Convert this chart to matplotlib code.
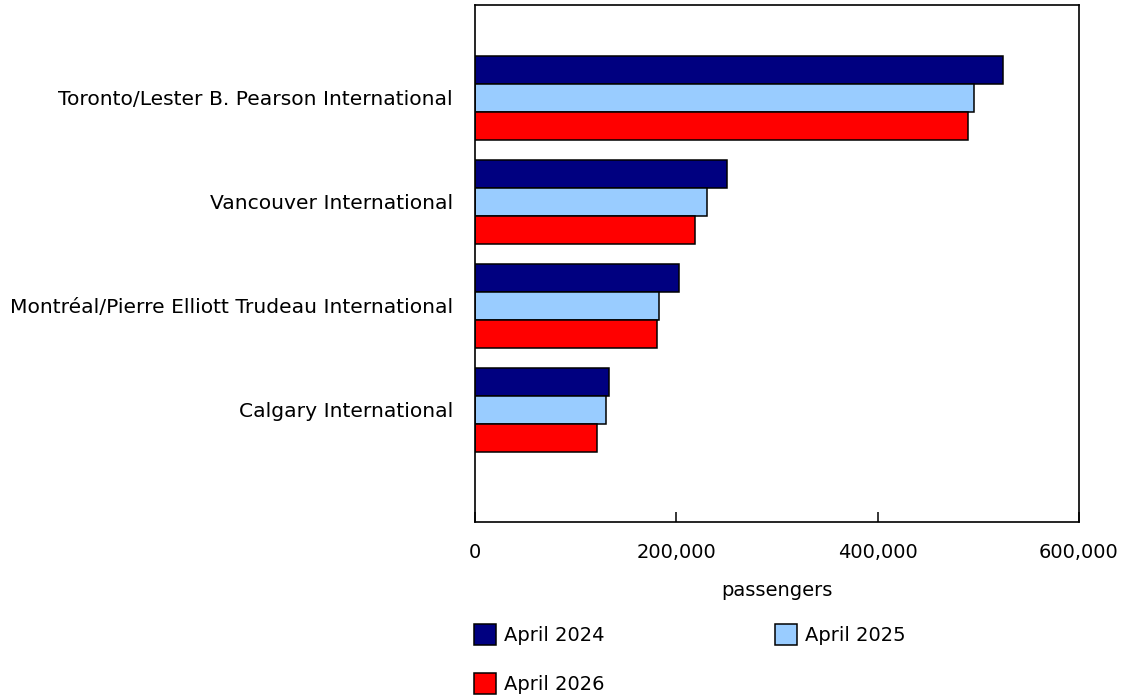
import matplotlib
matplotlib.use("Agg")
import matplotlib.pyplot as plt
from matplotlib.patches import Patch
import numpy as np

# airports, top to bottom
airports = [
    "Toronto/Lester B. Pearson International",
    "Vancouver International",
    "Montréal/Pierre Elliott Trudeau International",
    "Calgary International",
]
series_names = ["April 2024", "April 2025", "April 2026"]
april_2024 = [524200, 250000, 202700, 132800]
april_2025 = [496000, 230500, 182500, 130100]
april_2026 = [490000, 218900, 180500, 120900]
x_ticks = [0, 200000, 400000, 600000]
x_ticklabels = ["0", "200,000", "400,000", "600,000"]

colors = ["#000080", "#99CCFF", "#FF0000"]

plt.rcParams["font.family"] = ["DejaVu Sans"]
FS = 14

fig = plt.figure(figsize=(11.24, 6.97), dpi=100)
ax = fig.add_axes([475 / 1124, 1 - 522 / 697, 604 / 1124, 517 / 697])

y = np.arange(len(airports))
h = 0.27
for i, vals in enumerate([april_2024, april_2025, april_2026]):
    ax.barh(y + (i - 1) * h, vals, height=h, color=colors[i],
            edgecolor="black", linewidth=1.1, label=series_names[i])

ax.set_ylim(3 + 1.077, -0.894)
ax.set_xlim(0, 600000)
ax.set_yticks(y)
ax.set_yticklabels(airports, fontsize=14.6)
ax.tick_params(axis="y", length=0, pad=16)
ax.set_xticks(x_ticks)
ax.set_xticklabels(x_ticklabels, fontsize=FS)
ax.tick_params(axis="x", direction="in", length=7, width=1.1, pad=15)
ax.set_xlabel("passengers", fontsize=FS, labelpad=14)
for s in ax.spines.values():
    s.set_linewidth(1.2)

# row-major legend: 2024, 2025 on the first row, 2026 below
order = [0, 2, 1]
handles = [Patch(facecolor=colors[k], edgecolor="black", linewidth=1.1) for k in order]
labels = [series_names[k] for k in order]
fig.legend(handles, labels, loc="upper left",
           bbox_to_anchor=(474 / 1124, 1 - 624 / 697), ncol=2,
           frameon=False, fontsize=FS, handlelength=1.13, handleheight=1.25,
           handletextpad=0.4, columnspacing=8.8, labelspacing=1.45,
           borderaxespad=0, borderpad=0)

fig.savefig("out.png", dpi=100)
